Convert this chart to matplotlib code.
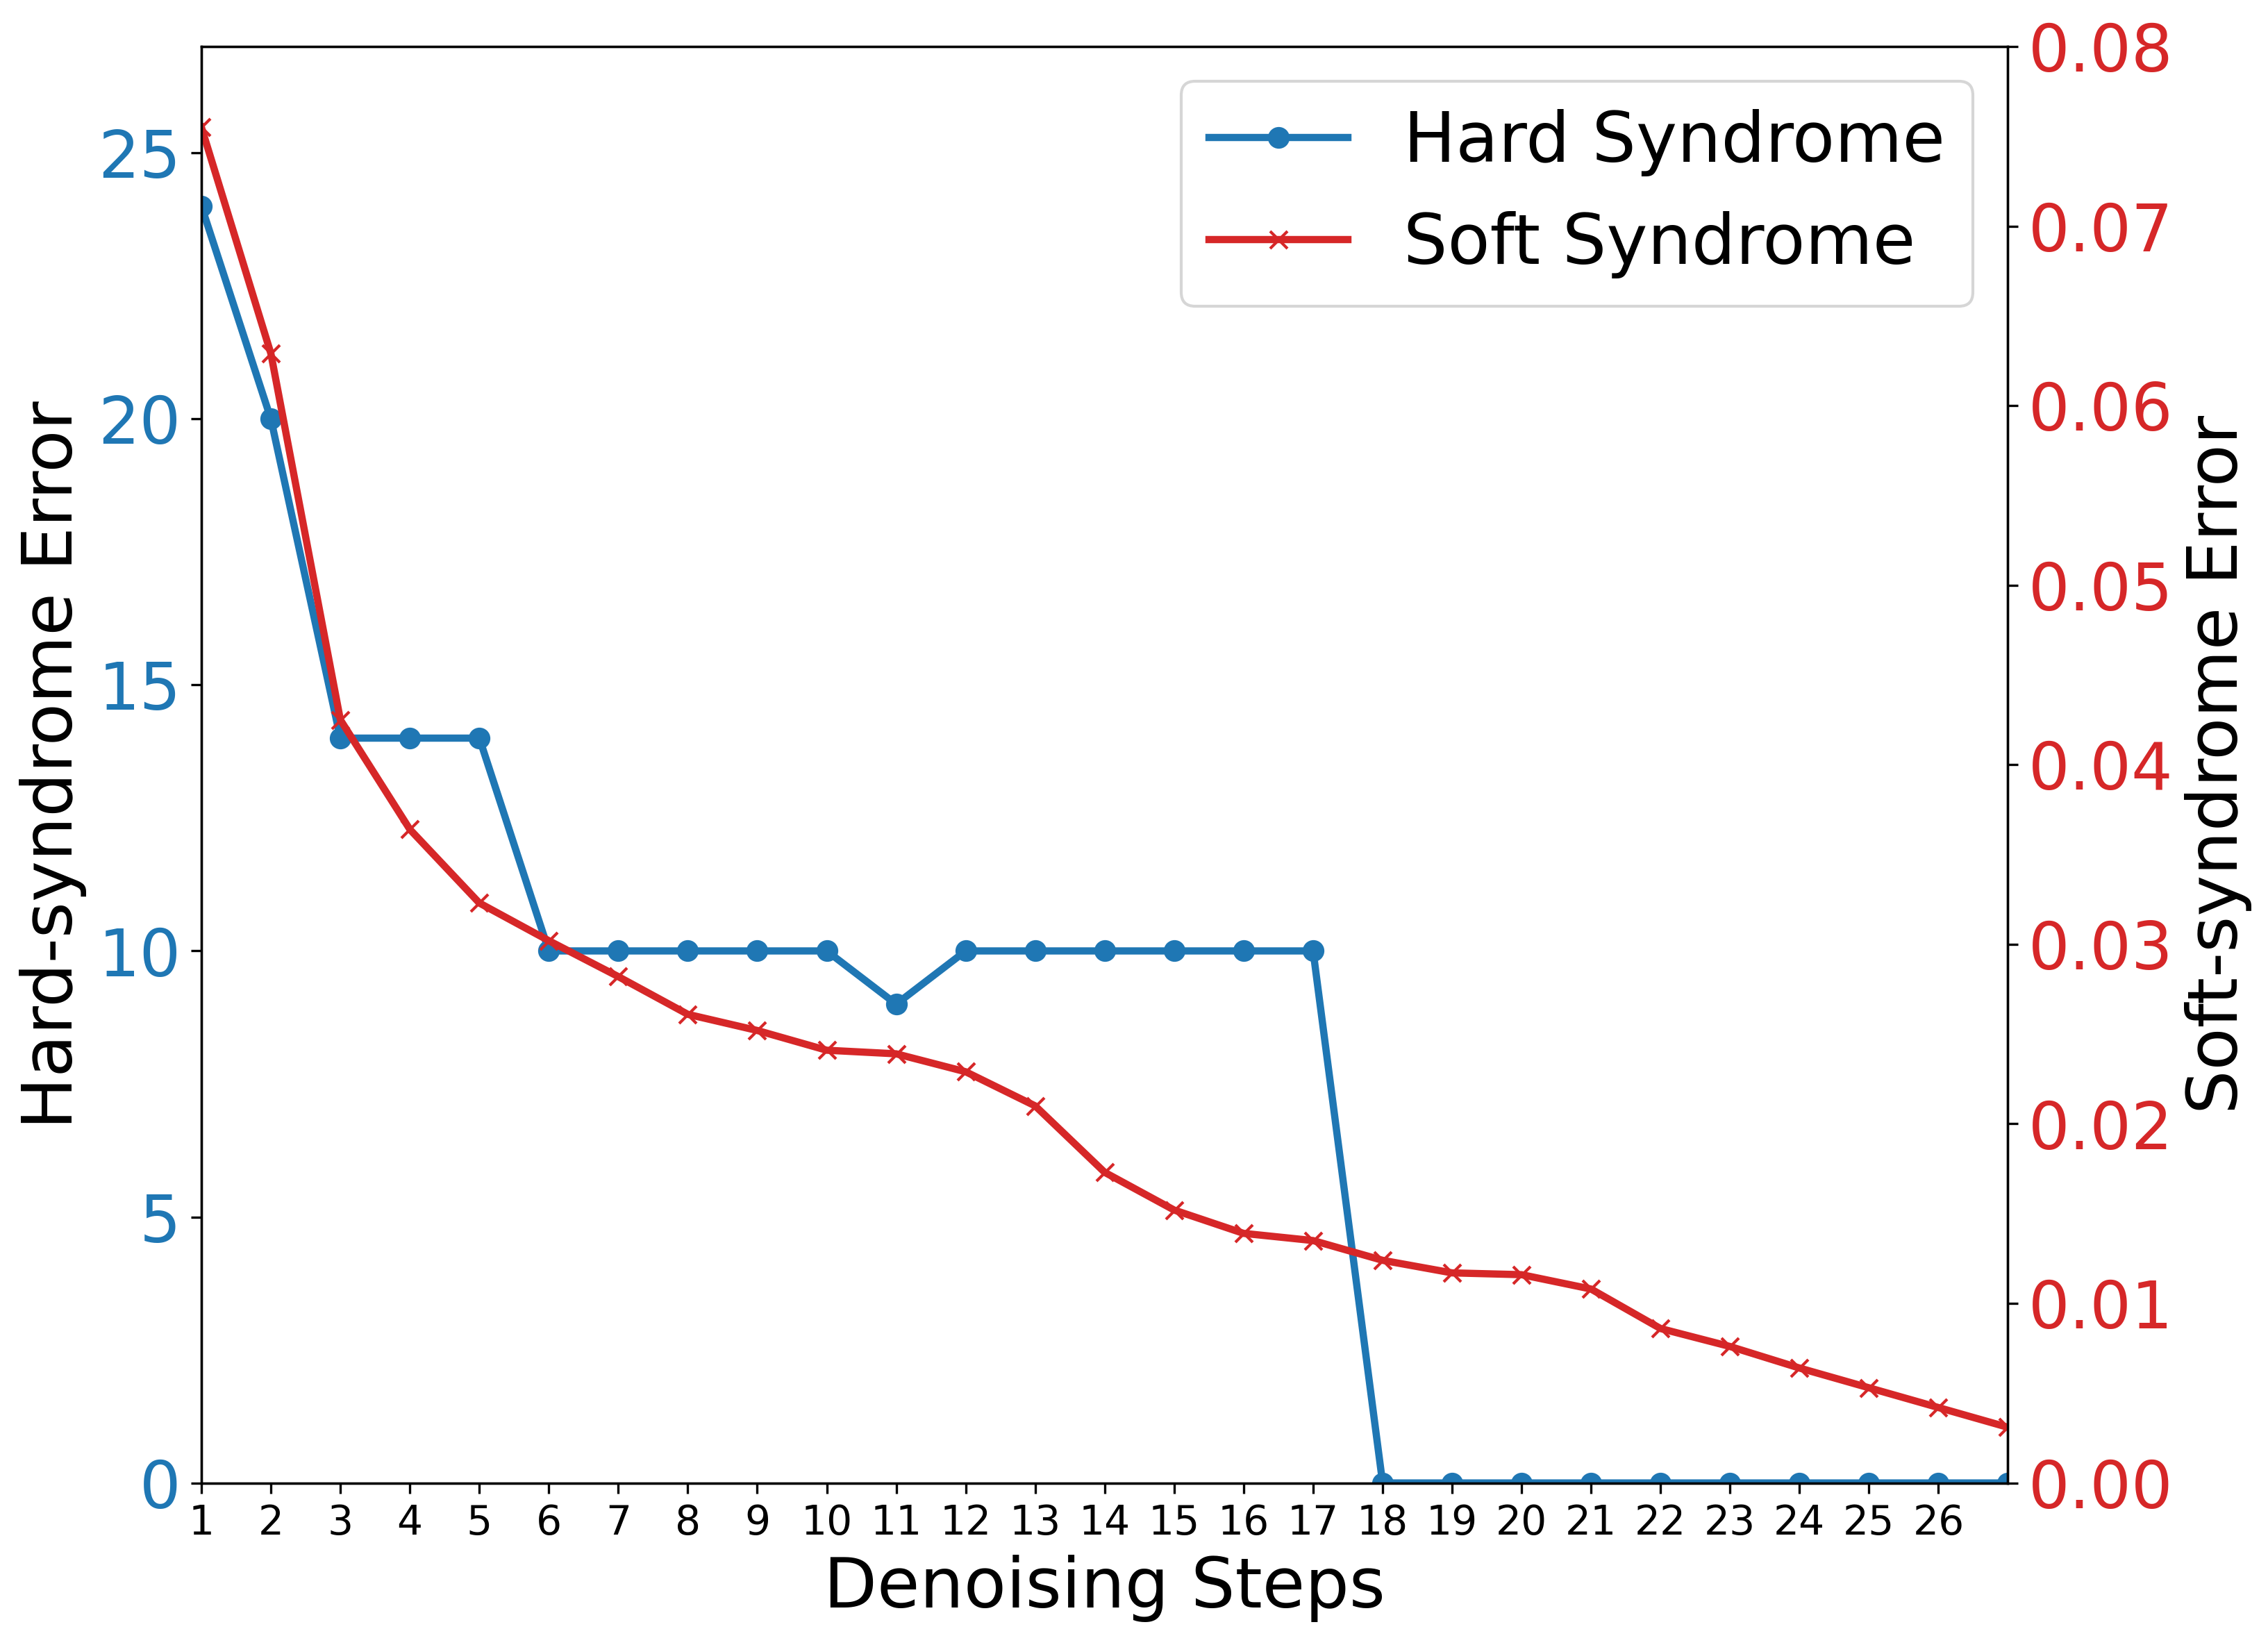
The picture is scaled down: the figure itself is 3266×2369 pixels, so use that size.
import matplotlib
matplotlib.use('Agg')
import matplotlib.pyplot as plt
import numpy as np

steps = list(range(1, 28))
hard_err = [24, 20, 14, 14, 14, 10, 10, 10, 10, 10, 9, 10, 10, 10, 10, 10, 10,
            0, 0, 0, 0, 0, 0, 0, 0, 0, 0]
soft_err = [0.0755, 0.0629, 0.0425, 0.0364, 0.0323, 0.0302, 0.0282, 0.0261,
            0.0252, 0.0241, 0.0239, 0.0229, 0.0210, 0.0173, 0.0152, 0.0139,
            0.0135, 0.0124, 0.0117, 0.0116, 0.0108, 0.0086, 0.0076, 0.0064,
            0.0053, 0.0042, 0.0031]
xtick_vals = list(range(1, 27))

fig = plt.figure(figsize=(10.887, 7.897), dpi=300)
ax1 = fig.add_axes([0.0888, 0.0985, 0.7965, 0.8732])
ax2 = ax1.twinx()

l1, = ax1.plot(steps, hard_err, color='tab:blue', marker='o', markersize=6.5,
               linewidth=2.5, label='Hard Syndrome')
l2, = ax2.plot(steps, soft_err, color='tab:red', marker='x', markersize=6,
               linewidth=2.5, label='Soft Syndrome')

ax1.set_xlim(1, 27)
ax1.set_ylim(0, 27)
ax2.set_ylim(0, 0.08)
ax1.set_xticks(xtick_vals)
ax1.tick_params(axis='x', labelsize=14)
ax1.tick_params(axis='y', labelsize=22.5, labelcolor='tab:blue')
ax2.tick_params(axis='y', labelsize=22.5, labelcolor='tab:red')
ax2.yaxis.set_major_formatter(matplotlib.ticker.FormatStrFormatter('%.2f'))

ax1.set_xlabel('Denoising Steps', fontsize=24)
ax1.set_ylabel('Hard-syndrome Error', fontsize=24)
ax2.set_ylabel('Soft-syndrome Error', fontsize=24)

ax2.legend(handles=[l1, l2], loc='upper right', fontsize=24)

fig.savefig('out.png', dpi=300)
